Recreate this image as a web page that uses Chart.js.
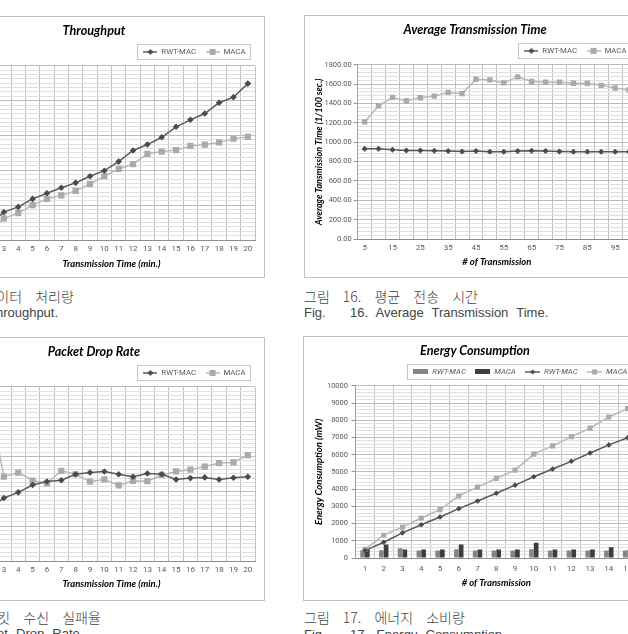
<!DOCTYPE html>
<html>
<head>
<meta charset="utf-8">
<title>RWT-MAC vs MACA</title>
<script src="https://cdn.jsdelivr.net/npm/chart.js@4.4.1/dist/chart.umd.min.js"></script>
<style>
  html, body { margin: 0; padding: 0; background: #ffffff; }
  #page { position: relative; width: 628px; height: 634px; overflow: hidden; background: #ffffff; }
  .box { position: absolute; border: 1px solid #c3c3c3; background: #ffffff; }
  .box canvas { display: block; }
  .cap { position: absolute; white-space: pre; color: #444444; line-height: 16px; }
  .ko { font-family: "Noto Sans CJK KR", sans-serif; font-size: 14px; font-weight: 300; word-spacing: 10px; }
  .en { font-family: "Liberation Sans", sans-serif; font-size: 13px; word-spacing: 4.5px; }
</style>
</head>
<body>
<div id="page">
  <div class="box" style="left:-77px; top:16px;"><canvas id="throughput" width="340" height="260"></canvas></div>
  <div class="box" style="left:304px; top:15px;"><canvas id="avg-time" width="340" height="261"></canvas></div>
  <div class="box" style="left:-77px; top:337px;"><canvas id="drop-rate" width="340" height="262"></canvas></div>
  <div class="box" style="left:303px; top:336px;"><canvas id="energy" width="340" height="263"></canvas></div>

  <div class="cap ko" style="left:-87px; top:288px;">그림 15. 데이터 처리량</div>
  <div class="cap en" style="left:-84px; top:305px;">Fig.   15. Throughput.</div>
  <div class="cap ko" style="left:304px; top:288px;">그림 16. 평균 전송 시간</div>
  <div class="cap en" style="left:304px; top:305px;">Fig.   16. Average Transmission Time.</div>
  <div class="cap ko" style="left:-86px; top:609px;">그림 18. 패킷 수신 실패율</div>
  <div class="cap en" style="left:-104px; top:626px;">Fig.   18. Packet Drop Rate.</div>
  <div class="cap ko" style="left:304px; top:609px;">그림 17. 에너지 소비량</div>
  <div class="cap en" style="left:304px; top:627px;">Fig.   17. Energy Consumption.</div>
</div>

<script>
// Fig. 15 / Fig. 18: x = transmission time (min.)
var minutes = ["1", "2", "3", "4", "5", "6", "7", "8", "9", "10",
    "11", "12", "13", "14", "15", "16", "17", "18", "19", "20"];
var throughputRwt = [2.3, 4.7, 8.0, 9.5, 11.8, 13.4, 15.0, 16.4, 18.3, 19.9,
    22.5, 25.7, 27.4, 29.5, 32.5, 34.5, 36.3, 39.4, 41.0, 44.9];
var throughputMaca = [0.8, 2.3, 6.2, 7.7, 10.0, 11.8, 12.8, 14.1, 16.1, 18.3,
    20.4, 21.8, 24.7, 25.4, 25.8, 27.0, 27.4, 28.0, 29.1, 29.6];
var dropRwt = [11.9, 14.9, 18.1, 19.7, 21.8, 22.8, 23.2, 24.9, 25.4, 25.7,
    24.9, 24.2, 25.1, 24.9, 23.4, 23.8, 24.0, 23.4, 23.9, 24.2];
var dropMaca = [38.0, 45.5, 24.2, 25.4, 23.1, 22.3, 25.9, 24.9, 22.8, 23.4,
    21.7, 23.0, 22.9, 24.7, 25.7, 26.2, 27.1, 28.1, 28.3, 30.4];

// Fig. 16: x = # of transmission, y = 1/100 sec.
var transmissions = ["5", "10", "15", "20", "25", "30", "35", "40", "45", "50",
    "55", "60", "65", "70", "75", "80", "85", "90", "95", "100"];
var avgTimeRwt = [933, 933, 922, 915, 915, 912, 909, 905, 909, 902,
    902, 909, 912, 909, 905, 902, 902, 902, 902, 902];
var avgTimeMaca = [1210, 1377, 1463, 1429, 1460, 1477, 1515, 1502, 1651, 1644,
    1613, 1675, 1627, 1620, 1620, 1609, 1609, 1588, 1561, 1540];

// Fig. 17: energy (mW)
var runs = ["1", "2", "3", "4", "5", "6", "7", "8", "9", "10", "11", "12", "13", "14", "15"];
var energyBarRwt = [450, 450, 565, 430, 430, 505, 430, 430, 430, 505, 430, 430, 430, 430, 430];
var energyBarMaca = [490, 780, 490, 490, 490, 780, 490, 490, 490, 880, 490, 490, 490, 630, 490];
var energyLineRwt = [430, 915, 1460, 1930, 2380, 2865, 3310, 3760, 4230, 4720, 5165, 5615, 6100, 6570, 6980];
var energyLineMaca = [500, 1325, 1795, 2320, 2810, 3605, 4115, 4620, 5105, 6025, 6510, 7040, 7545, 8190, 8675];

var darkLine = "#5a5a5a";
var darkFill = "#4a4a4a";
var lightLine = "#b8b8b8";
var lightFill = "#aaaaaa";
var small = "Roboto, Lato, sans-serif";

// little legend pictures: line with a marker, or a bar swatch
function lineMark(color, fill, shape, size, width) {
    var c = document.createElement("canvas");
    c.width = width;
    c.height = 10;
    var g = c.getContext("2d");
    g.strokeStyle = color;
    g.lineWidth = 1.5;
    g.beginPath();
    g.moveTo(0, 5);
    g.lineTo(width, 5);
    g.stroke();
    g.fillStyle = fill;
    g.beginPath();
    var cx = width / 2;
    if (shape === "diamond") {
        g.moveTo(cx, 5 - size);
        g.lineTo(cx + size, 5);
        g.lineTo(cx, 5 + size);
        g.lineTo(cx - size, 5);
        g.closePath();
    } else {
        g.rect(cx - size, 5 - size, size * 2, size * 2);
    }
    g.fill();
    return c;
}

function barMark(color, width) {
    var c = document.createElement("canvas");
    c.width = width;
    c.height = 5;
    var g = c.getContext("2d");
    g.fillStyle = color;
    g.fillRect(0, 0, width, 5);
    return c;
}

function legendItems(marks) {
    return function (chart) {
        return chart.data.datasets.map(function (ds, i) {
            return {
                text: ds.label,
                pointStyle: marks[i],
                fillStyle: "rgba(0,0,0,0)",
                strokeStyle: "rgba(0,0,0,0)",
                lineWidth: 0,
                fontColor: "#595959",
                hidden: false,
                datasetIndex: i
            };
        });
    };
}

function isMajor(v, major) {
    var r = v / major;
    return Math.abs(r - Math.round(r)) < 1e-6;
}

// excel style frame round the legend
var legendFrame = {
    id: "legendFrame",
    afterDraw: function (chart) {
        var boxes = chart.legend && chart.legend.legendHitBoxes;
        if (!boxes || !boxes.length) return;
        var first = boxes[0];
        var last = boxes[boxes.length - 1];
        var cy = first.top + first.height / 2;
        var ctx = chart.ctx;
        ctx.save();
        ctx.strokeStyle = "#c6c6c6";
        ctx.lineWidth = 1;
        ctx.strokeRect(Math.round(first.left - 6) + 0.5, Math.round(cy - 7.5) + 0.5,
            Math.round(last.left + last.width - first.left + 11), 15);
        ctx.restore();
    }
};

function frame(o) {
    return {
        responsive: false,
        animation: false,
        events: [],
        layout: { padding: { left: 9, right: o.padRight, top: 1, bottom: 0 } },
        plugins: {
            title: {
                display: true,
                text: o.title,
                color: "#000000",
                font: { family: "Lato", size: 12.6, weight: "bold", style: "italic" },
                padding: { top: 5.4, bottom: 0 }
            },
            legend: {
                position: "top",
                align: "end",
                labels: {
                    usePointStyle: true,
                    pointStyleWidth: o.markWidth,
                    padding: 9.5,
                    color: "#595959",
                    font: { family: small, size: 7.8, style: o.legendStyle || "normal" },
                    generateLabels: legendItems(o.marks)
                }
            },
            tooltip: { enabled: false }
        },
        scales: {
            x: {
                offset: true,
                grid: { offset: true, color: "#c2c2c2", drawTicks: false },
                border: { color: "#8f8f8f" },
                ticks: {
                    autoSkip: false,
                    maxRotation: 0,
                    padding: o.xTickPad,
                    color: "#595959",
                    font: { family: small, size: 8 },
                    callback: o.xTick || function (v) { return this.getLabelForValue(v); }
                },
                title: {
                    display: true,
                    text: o.xTitle,
                    color: "#000000",
                    font: { family: "Lato", size: 9.5, weight: "bold", style: "italic" },
                    padding: { top: 0, bottom: o.xTitlePad }
                },
                afterFit: function (s) {
                    s.height = o.xHeight;
                    s.paddingLeft = 0;
                    s.paddingRight = 0;
                }
            },
            y: {
                min: o.min,
                max: o.max,
                grid: {
                    color: function (c) {
                        if (!c.tick) return "#e0e0e0";
                        return isMajor(c.tick.value, o.major) ? "#bdbdbd" : "#e0e0e0";
                    },
                    tickColor: function (c) {
                        if (!c.tick) return "rgba(0,0,0,0)";
                        return isMajor(c.tick.value, o.major) ? "#8f8f8f" : "rgba(0,0,0,0)";
                    },
                    tickLength: 4
                },
                border: { color: "#a0a0a0" },
                ticks: {
                    stepSize: o.step,
                    autoSkip: false,
                    padding: o.yTickPad,
                    color: "#595959",
                    font: { family: small, size: 7.5 },
                    callback: function (v) {
                        return isMajor(v, o.major) ? o.fmt(v) : "";
                    }
                },
                title: {
                    display: !!o.yTitle,
                    text: o.yTitle || "",
                    color: "#000000",
                    font: { family: "Lato", size: o.yTitleSize || 9.5, weight: "bold", style: "italic" },
                    padding: 0
                },
                afterFit: function (s) {
                    s.width = o.yWidth;
                    s.paddingTop = 0;
                    s.paddingBottom = 0;
                }
            }
        }
    };
}

new Chart("throughput", {
    type: "line",
    data: {
        labels: minutes,
        datasets: [
            {
                label: "RWT-MAC",
                data: throughputRwt,
                borderColor: darkLine,
                backgroundColor: darkFill,
                borderWidth: 1.5,
                pointStyle: "rectRot",
                pointRadius: 3.3,
                pointBorderWidth: 0
            },
            {
                label: "MACA",
                data: throughputMaca,
                borderColor: lightLine,
                backgroundColor: lightFill,
                borderWidth: 1.5,
                pointStyle: "rect",
                pointRadius: 4.4,
                pointBorderWidth: 0
            }
        ]
    },
    options: frame({
        title: "Throughput",
        xTitle: "Transmission Time (min.)",
        min: 0, max: 50, step: 1.25, major: 10,
        fmt: function (v) { return String(v); },
        padRight: 9, yWidth: 35, xHeight: 37, xTickPad: 4.2, xTitlePad: 7.3, yTickPad: 2,
        markWidth: 14,
        marks: [lineMark(darkLine, darkFill, "diamond", 3, 14), lineMark(lightLine, lightFill, "square", 3, 14)]
    }),
    plugins: [legendFrame]
});

new Chart("avg-time", {
    type: "line",
    data: {
        labels: transmissions,
        datasets: [
            {
                label: "RWT-MAC",
                data: avgTimeRwt,
                borderColor: darkLine,
                backgroundColor: darkFill,
                borderWidth: 1.5,
                pointStyle: "rectRot",
                pointRadius: 3,
                pointBorderWidth: 0
            },
            {
                label: "MACA",
                data: avgTimeMaca,
                borderColor: lightLine,
                backgroundColor: lightFill,
                borderWidth: 1.5,
                pointStyle: "rect",
                pointRadius: 3.8,
                pointBorderWidth: 0
            }
        ]
    },
    options: frame({
        title: "Average Transmission Time",
        xTitle: "# of Transmission",
        yTitle: "Average Tansmission Time (1/100 sec.)",
        yTitleSize: 9,
        min: 0, max: 1800, step: 40, major: 200,
        fmt: function (v) { return v.toFixed(2); },
        xTick: function (v, i) { return i % 2 === 0 ? this.getLabelForValue(v) : ""; },
        padRight: 9, yWidth: 43.7, xHeight: 38, xTickPad: 4.2, xTitlePad: 9.6, yTickPad: 2,
        markWidth: 14,
        marks: [lineMark(darkLine, darkFill, "diamond", 3, 14), lineMark(lightLine, lightFill, "square", 3, 14)]
    }),
    plugins: [legendFrame]
});

new Chart("drop-rate", {
    type: "line",
    data: {
        labels: minutes,
        datasets: [
            {
                label: "RWT-MAC",
                data: dropRwt,
                borderColor: darkLine,
                backgroundColor: darkFill,
                borderWidth: 1.5,
                pointStyle: "rectRot",
                pointRadius: 3.3,
                pointBorderWidth: 0
            },
            {
                label: "MACA",
                data: dropMaca,
                borderColor: lightLine,
                backgroundColor: lightFill,
                borderWidth: 1.5,
                pointStyle: "rect",
                pointRadius: 4.4,
                pointBorderWidth: 0
            }
        ]
    },
    options: frame({
        title: "Packet Drop Rate",
        xTitle: "Transmission Time (min.)",
        min: 0, max: 50, step: 1.25, major: 10,
        fmt: function (v) { return String(v); },
        padRight: 9, yWidth: 35, xHeight: 39, xTickPad: 4.2, xTitlePad: 10.3, yTickPad: 2,
        markWidth: 14,
        marks: [lineMark(darkLine, darkFill, "diamond", 3, 14), lineMark(lightLine, lightFill, "square", 3, 14)]
    }),
    plugins: [legendFrame]
});

new Chart("energy", {
    type: "bar",
    data: {
        labels: runs,
        datasets: [
            {
                type: "bar",
                label: "RWT-MAC",
                data: energyBarRwt,
                backgroundColor: "#858585",
                categoryPercentage: 0.5,
                barPercentage: 1.0,
                order: 1
            },
            {
                type: "bar",
                label: "MACA",
                data: energyBarMaca,
                backgroundColor: "#3d3d3d",
                categoryPercentage: 0.5,
                barPercentage: 1.0,
                order: 1
            },
            {
                type: "line",
                label: "RWT-MAC",
                data: energyLineRwt,
                borderColor: darkLine,
                backgroundColor: darkFill,
                borderWidth: 1.5,
                pointStyle: "rectRot",
                pointRadius: 2.8,
                pointBorderWidth: 0,
                order: 0
            },
            {
                type: "line",
                label: "MACA",
                data: energyLineMaca,
                borderColor: lightLine,
                backgroundColor: lightFill,
                borderWidth: 1.5,
                pointStyle: "rect",
                pointRadius: 3.6,
                pointBorderWidth: 0,
                order: 0
            }
        ]
    },
    options: frame({
        title: "Energy Consumption",
        xTitle: "# of Transmission",
        yTitle: "Energy Consumption (mW)",
        min: 0, max: 10000, step: 200, major: 1000,
        fmt: function (v) { return String(v); },
        padRight: 7, yWidth: 42.6, xHeight: 42, xTickPad: 6.5, xTitlePad: 11.6, yTickPad: 3.6,
        markWidth: 15,
        legendStyle: "italic",
        marks: [barMark("#858585", 15), barMark("#3d3d3d", 15),
            lineMark(darkLine, darkFill, "diamond", 2.6, 15), lineMark(lightLine, lightFill, "square", 2.6, 15)]
    }),
    plugins: [legendFrame]
});
</script>
</body>
</html>
